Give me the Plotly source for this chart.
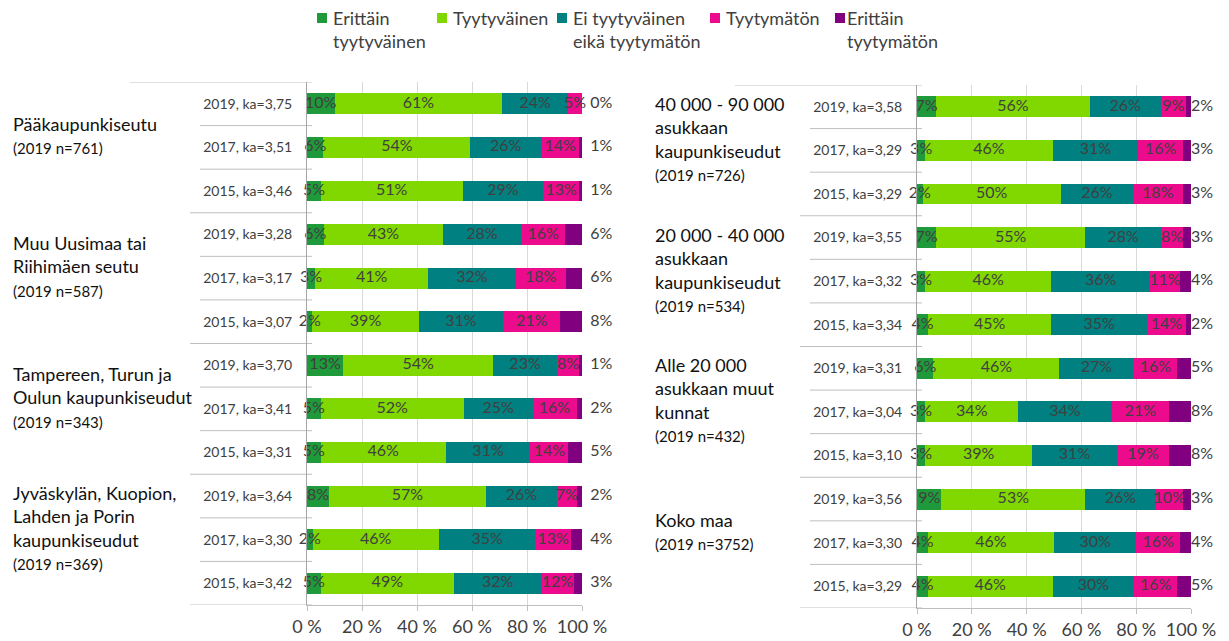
import plotly.graph_objects as go

OFF = 0
FW, FH = 1229, 641

categories = ["Erittäin<br>tyytyväinen", "Tyytyväinen", "Ei tyytyväinen<br>eikä tyytymätön",
              "Tyytymätön", "Erittäin<br>tyytymätön"]
colors = ["#1f9a3a", "#80d800", "#008080", "#ec0b8c", "#800080"]

# Left panel
left_groups = ["Pääkaupunkiseutu", "Muu Uusimaa tai<br>Riihimäen seutu",
               "Tampereen, Turun ja<br>Oulun kaupunkiseudut",
               "Jyväskylän, Kuopion,<br>Lahden ja Porin<br>kaupunkiseudut"]
left_n = ["(2019 n=761)", "(2019 n=587)", "(2019 n=343)", "(2019 n=369)"]
left_rows = ["2019, ka=3,75", "2017, ka=3,51", "2015, ka=3,46",
             "2019, ka=3,28", "2017, ka=3,17", "2015, ka=3,07",
             "2019, ka=3,70", "2017, ka=3,41", "2015, ka=3,31",
             "2019, ka=3,64", "2017, ka=3,30", "2015, ka=3,42"]
left_vals = [
    [10, 6, 5, 6, 3, 2, 13, 5, 5, 8, 2, 5],            # Erittäin tyytyväinen
    [61, 54, 51, 43, 41, 39, 54, 52, 46, 57, 46, 49],  # Tyytyväinen
    [24, 26, 29, 28, 32, 31, 23, 25, 31, 26, 35, 32],  # Ei tyytyväinen eikä tyytymätön
    [5, 14, 13, 16, 18, 21, 8, 16, 14, 7, 13, 12],     # Tyytymätön
    [0, 1, 1, 6, 6, 8, 1, 2, 5, 2, 4, 3],              # Erittäin tyytymätön
]

# Right panel
right_groups = ["40 000 - 90 000<br>asukkaan<br>kaupunkiseudut",
                "20 000 - 40 000<br>asukkaan<br>kaupunkiseudut",
                "Alle 20 000<br>asukkaan muut<br>kunnat", "Koko maa"]
right_n = ["(2019 n=726)", "(2019 n=534)", "(2019 n=432)", "(2019 n=3752)"]
right_rows = ["2019, ka=3,58", "2017, ka=3,29", "2015, ka=3,29",
              "2019, ka=3,55", "2017, ka=3,32", "2015, ka=3,34",
              "2019, ka=3,31", "2017, ka=3,04", "2015, ka=3,10",
              "2019, ka=3,56", "2017, ka=3,30", "2015, ka=3,29"]
right_vals = [
    [7, 3, 2, 7, 3, 4, 6, 3, 3, 9, 4, 4],
    [56, 46, 50, 55, 46, 45, 46, 34, 39, 53, 46, 46],
    [26, 31, 26, 28, 36, 35, 27, 34, 31, 26, 30, 30],
    [9, 16, 18, 8, 11, 14, 16, 21, 19, 10, 16, 16],
    [2, 3, 3, 3, 4, 2, 5, 8, 8, 3, 4, 5],
]

tick_labels = ["0 %", "20 %", "40 %", "60 %", "80 %", "100 %"]
tick_vals = [0, 20, 40, 60, 80, 100]

FONT = "Lato"
TXT = "#404040"
GRID = "#d9d9d9"
LINE = "#bfbfbf"


def sx(x):
    return (x - OFF) / FW


def sy(y):
    return 1 - (y - OFF) / FH


fig = go.Figure()


def add_panel(vals, rows, xa, ya, end_pad):
    n = len(rows)
    y = list(range(n))
    totals = [sum(vals[c][i] for c in range(5)) for i in range(n)]
    norm = [[vals[c][i] * 100.0 / totals[i] for i in range(n)] for c in range(5)]
    cum = [0.0] * n
    for c in range(5):
        fig.add_trace(go.Bar(
            x=norm[c], y=y, orientation="h", name=categories[c].replace("<br>", " "),
            marker=dict(color=colors[c], line=dict(width=0)),
            xaxis=xa, yaxis=ya, showlegend=False, hoverinfo="skip"))
        if c < 4:
            mids = [cum[i] + norm[c][i] / 2 for i in range(n)]
            fig.add_trace(go.Scatter(
                x=mids, y=y, mode="text", text=[f"{v}%" for v in vals[c]],
                textposition="middle center",
                textfont=dict(family=FONT, size=16, color=TXT),
                xaxis=xa, yaxis=ya, showlegend=False, hoverinfo="skip",
                cliponaxis=False))
        else:
            ends = [totals[i] * 100.0 / totals[i] for i in range(n)]
            fig.add_trace(go.Scatter(
                x=ends, y=y, mode="text", text=[f"{end_pad}{v}%" for v in vals[c]],
                textposition="middle right",
                textfont=dict(family=FONT, size=16, color=TXT),
                xaxis=xa, yaxis=ya, showlegend=False, hoverinfo="skip",
                cliponaxis=False))
        cum = [cum[i] + norm[c][i] for i in range(n)]


add_panel(left_vals, left_rows, "x", "y", "\u00a0\u00a0")
add_panel(right_vals, right_rows, "x2", "y2", "")

xcommon = dict(range=[0, 100], tickvals=tick_vals, ticktext=tick_labels,
               showgrid=True, gridcolor=GRID, gridwidth=1, zeroline=False,
               showline=True, linecolor=LINE, ticks="outside", ticklen=5,
               tickcolor=LINE, tickfont=dict(family=FONT, size=18, color=TXT),
               fixedrange=True, automargin=False)
ycommon = dict(range=[11.5, -0.5], tickvals=list(range(12)), showgrid=False,
               zeroline=False, showline=True, linecolor="#a6a6a6", ticks="",
               tickfont=dict(family=FONT, size=14, color=TXT),
               ticklabelstandoff=11, fixedrange=True, automargin=False)

fig.update_layout(
    xaxis=dict(domain=[sx(307), sx(582)], anchor="y", **xcommon),
    yaxis=dict(domain=[sy(605), sy(82)], anchor="x", ticktext=left_rows, **ycommon),
    xaxis2=dict(domain=[sx(917), sx(1191)], anchor="y2", **xcommon),
    yaxis2=dict(domain=[sy(608), sy(85)], anchor="x2", ticktext=right_rows, **ycommon),
    barmode="stack", bargap=0.52,
    width=FW, height=FH,
    margin=dict(l=0, r=0, t=0, b=0),
    plot_bgcolor="white", paper_bgcolor="white",
    font=dict(family=FONT, color=TXT),
    showlegend=False,
)

shapes = []
anns = []

# legend (drawn as squares + labels)
leg_marker_x = [317, 437, 557, 710, 835]
leg_text_x = [331, 451, 571, 724, 845]
for c in range(5):
    shapes.append(dict(type="rect", xref="paper", yref="paper",
                       x0=sx(leg_marker_x[c]), x1=sx(leg_marker_x[c] + 10),
                       y0=sy(23), y1=sy(13), fillcolor=colors[c], line=dict(width=0)))
    anns.append(dict(xref="paper", yref="paper", x=sx(leg_text_x[c]), y=sy(5),
                     xanchor="left", yanchor="top", align="left", showarrow=False,
                     text=categories[c], font=dict(family=FONT, size=18, color=TXT)))

# separators in category label area
for ya, x_row0, x_grp0, x_top0, x_end in [("y", 200, 190, 130, 312), ("y2", 810, 800, 735, 922)]:
    for k in range(13):
        yb = k - 0.5
        if k == 0:
            x0 = x_top0
        elif k % 3 == 0:
            x0 = x_grp0
        else:
            x0 = x_row0
        shapes.append(dict(type="line", xref="paper", yref=ya, x0=sx(x0), x1=sx(x_end),
                           y0=yb, y1=yb, line=dict(color=LINE, width=1), layer="below"))

# group labels
for groups, ns, ya, x0 in [(left_groups, left_n, "y", 11), (right_groups, right_n, "y2", 653)]:
    for g, (name, nn) in enumerate(zip(groups, ns)):
        anns.append(dict(
            xref="paper", yref=ya, x=sx(x0), y=3 * g + 1, xanchor="left", yanchor="middle",
            yshift=12, align="left", showarrow=False,
            text=f"{name}<br><span style='font-size:15px'>{nn}</span>",
            font=dict(family=FONT, size=18, color="#111111")))

fig.update_layout(shapes=shapes, annotations=anns)

fig.write_html("out.html", config={"displayModeBar": False},
               post_script="document.body.style.margin='0px';"
                           "document.body.style.overflow='hidden';")
